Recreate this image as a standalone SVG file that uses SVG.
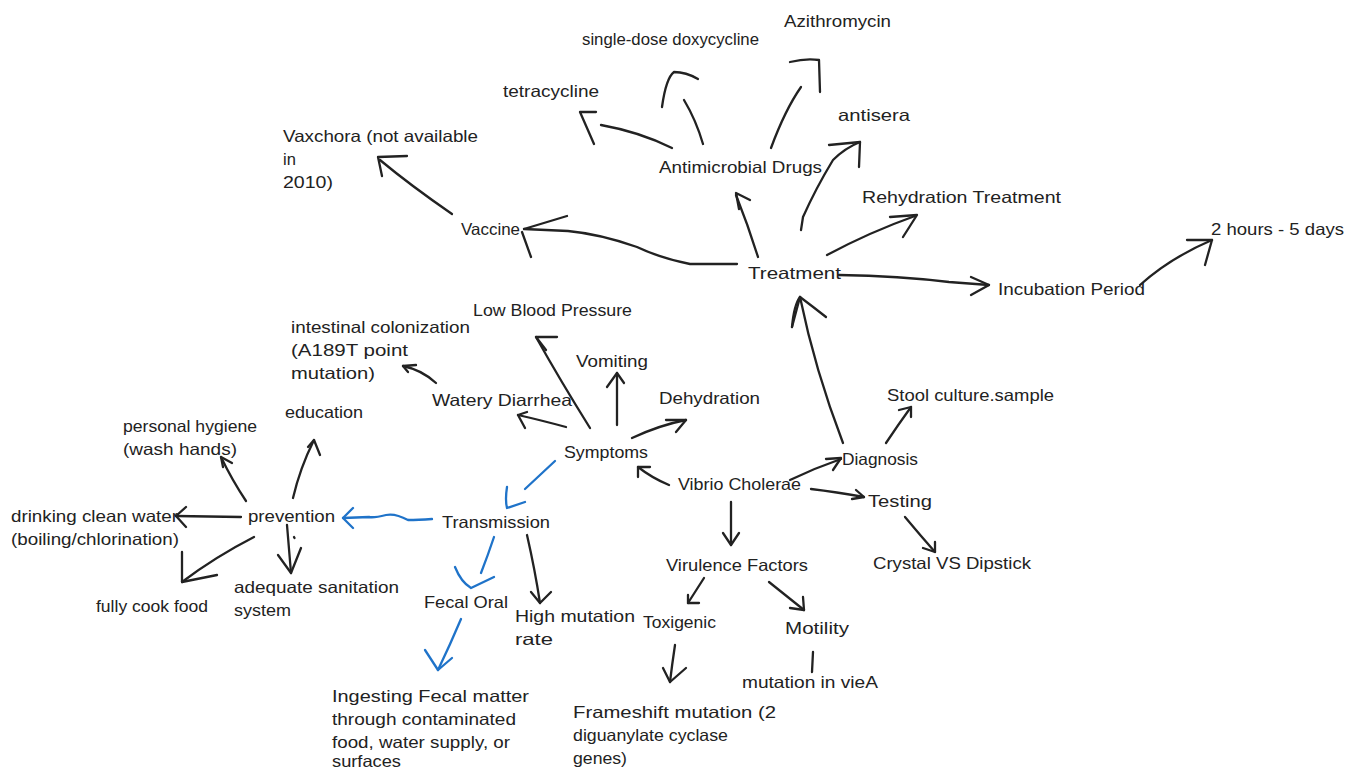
<svg xmlns="http://www.w3.org/2000/svg" width="1345" height="771" viewBox="0 0 1345 771">
<style>
text{font-family:"Liberation Sans","DejaVu Sans",sans-serif;font-size:16.5px;fill:#222}
.c path{fill:none;stroke:#222;stroke-width:2.3;stroke-linecap:round;stroke-linejoin:round}
.c path.b{stroke:#1f73c9}
</style>
<rect width="1345" height="771" fill="#fff"/>
<g id="connectors" class="c">
<!-- Treatment branches -->
<path d="M452,214 Q410,185 380,160"/><path d="M407,156 L378,157 L382,176"/>
<path d="M737,264 L690,264 Q660,258 637,247 Q600,234 568,231 L524,229"/><path d="M567,216 L524,229"/><path d="M522,232 L531,257"/>
<path d="M672,148 Q640,132 601,125"/><path d="M596,112 L580,112 L594,144"/>
<path d="M703,144 Q696,120 684,100"/><path d="M662,107 Q666,78 674,72 Q686,72 698,79"/>
<path d="M771,148 Q785,110 801,87"/><path d="M790,62 Q806,58 819,60 L820,92"/>
<path d="M801,230 L803,217 Q816,188 833,160 Q845,148 860,142"/><path d="M829,145 L860,142 L859,167"/>
<path d="M758,257 Q748,225 736,195"/><path d="M750,200 L736,193 L739,209"/>
<path d="M827,255 Q870,232 915,216"/><path d="M890,217 L917,215 L903,237"/>
<path d="M839,275 Q900,276 949,282 L989,285"/><path d="M971,277 L989,285 L971,295"/>
<path d="M1140,285 Q1170,258 1212,240"/><path d="M1187,240 L1212,240 L1205,265"/>
<!-- Diagnosis / Vibrio -->
<path d="M843,443 Q815,370 800,297"/><path d="M792,327 Q794,305 800,297 Q812,306 826,317"/><path d="M792,327 L800,297"/>
<path d="M886,443 Q898,425 911,407"/><path d="M899,410 L911,407 L911,417"/>
<path d="M669,485 Q652,478 638,467"/><path d="M650,467 L638,467 L638,477"/>
<path d="M790,480 Q815,468 841,459"/><path d="M826,459 L841,458 L833,470"/>
<path d="M811,489 Q836,492 864,497"/><path d="M856,490 L864,497 L852,499"/>
<path d="M731,502 L731,545"/><path d="M723,533 L731,545 L739,533"/>
<path d="M905,517 Q920,535 935,552"/><path d="M923,548 L935,552 L935,542"/>
<path d="M704,578 L688,603"/><path d="M688,595 L688,603 L699,603"/>
<path d="M769,582 L804,610"/><path d="M790,608 L804,610 L803,597"/>
<path d="M675,645 Q672,665 670,682"/><path d="M663,668 L670,682 L686,668"/>
<path d="M813,652 L812,672"/>
<!-- Symptoms -->
<path d="M617,425 L617,373"/><path d="M607,387 L617,373 L624,383"/>
<path d="M632,438 Q660,425 686,420"/><path d="M666,420 L686,420 L676,432"/>
<path d="M590,428 Q560,380 536,337"/><path d="M557,337 L536,337 L546,350"/>
<path d="M566,427 Q540,420 518,415"/><path d="M527,412 L518,415 L525,428"/>
<path d="M436,383 Q422,370 403,366"/><path d="M416,365 L403,366 L408,372"/>
<!-- blue -->
<path class="b" d="M555,461 Q540,475 525,489"/><path class="b" d="M507,487 Q505,500 507,508 L525,502"/>
<path class="b" d="M432,519 Q418,520 408,520 Q395,513 386,515 Q374,518 369,517 L343,518"/><path class="b" d="M353,508 L343,518 L353,528"/>
<path class="b" d="M494,537 Q488,555 481,573"/><path class="b" d="M455,567 Q461,582 471,588 L494,577"/>
<path class="b" d="M461,619 Q450,645 438,670"/><path class="b" d="M425,650 L438,670 L452,658"/>
<!-- prevention -->
<path d="M241,517 L176,516"/><path d="M186,507 L176,516 L186,527"/>
<path d="M246,501 Q232,480 221,457"/><path d="M232,463 L221,457 L223,467"/>
<path d="M293,498 Q300,468 314,440"/><path d="M308,447 L314,440 L320,455"/>
<path d="M287,525 Q289,550 291,573"/><path d="M278,555 L291,573 L301,548"/><path d="M294,537 L294.5,538"/>
<path d="M254,537 Q215,557 182,582"/><path d="M182,552 L182,582 L217,575"/>
<!-- Transmission -->
<path d="M527,535 Q535,570 540,603"/><path d="M531,592 L540,603 L551,592"/>
</g>
<g id="n-azithromycin"><text x="784" y="27" textLength="107" lengthAdjust="spacingAndGlyphs">Azithromycin</text></g>
<g id="n-doxycycline"><text x="582" y="45" textLength="177" lengthAdjust="spacingAndGlyphs">single-dose doxycycline</text></g>
<g id="n-tetracycline"><text x="503" y="97" textLength="96" lengthAdjust="spacingAndGlyphs">tetracycline</text></g>
<g id="n-vaxchora"><text x="283" y="142" textLength="195" lengthAdjust="spacingAndGlyphs">Vaxchora (not available</text><text x="283" y="165">in</text><text x="283" y="188" textLength="50" lengthAdjust="spacingAndGlyphs">2010)</text></g>
<g id="n-antisera"><text x="838" y="121" textLength="72" lengthAdjust="spacingAndGlyphs">antisera</text></g>
<g id="n-antimicrobial"><text x="659" y="173" textLength="163" lengthAdjust="spacingAndGlyphs">Antimicrobial Drugs</text></g>
<g id="n-rehydration"><text x="862" y="203" textLength="199" lengthAdjust="spacingAndGlyphs">Rehydration Treatment</text></g>
<g id="n-vaccine"><text x="461" y="235" textLength="59" lengthAdjust="spacingAndGlyphs">Vaccine</text></g>
<g id="n-hours"><text x="1211" y="235" textLength="133" lengthAdjust="spacingAndGlyphs">2 hours - 5 days</text></g>
<g id="n-treatment"><text x="748" y="279" textLength="93" lengthAdjust="spacingAndGlyphs">Treatment</text></g>
<g id="n-incubation"><text x="998" y="295" textLength="147" lengthAdjust="spacingAndGlyphs">Incubation Period</text></g>
<g id="n-lowbp"><text x="473" y="316" textLength="159" lengthAdjust="spacingAndGlyphs">Low Blood Pressure</text></g>
<g id="n-intestinal"><text x="291" y="333" textLength="179" lengthAdjust="spacingAndGlyphs">intestinal colonization</text><text x="291" y="356" textLength="117" lengthAdjust="spacingAndGlyphs">(A189T point</text><text x="291" y="379" textLength="84" lengthAdjust="spacingAndGlyphs">mutation)</text></g>
<g id="n-vomiting"><text x="576" y="367" textLength="72" lengthAdjust="spacingAndGlyphs">Vomiting</text></g>
<g id="n-diarrhea"><text x="432" y="406" textLength="140" lengthAdjust="spacingAndGlyphs">Watery Diarrhea</text></g>
<g id="n-dehydration"><text x="659" y="404" textLength="101" lengthAdjust="spacingAndGlyphs">Dehydration</text></g>
<g id="n-stool"><text x="887" y="401" textLength="167" lengthAdjust="spacingAndGlyphs">Stool culture.sample</text></g>
<g id="n-education"><text x="285" y="418" textLength="78" lengthAdjust="spacingAndGlyphs">education</text></g>
<g id="n-hygiene"><text x="123" y="432" textLength="134" lengthAdjust="spacingAndGlyphs">personal hygiene</text><text x="123" y="455" textLength="114" lengthAdjust="spacingAndGlyphs">(wash hands)</text></g>
<g id="n-symptoms"><text x="564" y="458" textLength="84" lengthAdjust="spacingAndGlyphs">Symptoms</text></g>
<g id="n-diagnosis"><text x="842" y="465" textLength="76" lengthAdjust="spacingAndGlyphs">Diagnosis</text></g>
<g id="n-vibrio"><text x="678" y="490" textLength="123" lengthAdjust="spacingAndGlyphs">Vibrio Cholerae</text></g>
<g id="n-testing"><text x="868" y="507" textLength="64" lengthAdjust="spacingAndGlyphs">Testing</text></g>
<g id="n-water"><text x="11" y="522" textLength="167" lengthAdjust="spacingAndGlyphs">drinking clean water</text><text x="11" y="545" textLength="168" lengthAdjust="spacingAndGlyphs">(boiling/chlorination)</text></g>
<g id="n-prevention"><text x="248" y="522" textLength="87" lengthAdjust="spacingAndGlyphs">prevention</text></g>
<g id="n-transmission"><text x="442" y="528" textLength="108" lengthAdjust="spacingAndGlyphs">Transmission</text></g>
<g id="n-virulence"><text x="666" y="571" textLength="142" lengthAdjust="spacingAndGlyphs">Virulence Factors</text></g>
<g id="n-crystal"><text x="873" y="569" textLength="158" lengthAdjust="spacingAndGlyphs">Crystal VS Dipstick</text></g>
<g id="n-sanitation"><text x="234" y="593" textLength="165" lengthAdjust="spacingAndGlyphs">adequate sanitation</text><text x="234" y="616" textLength="57" lengthAdjust="spacingAndGlyphs">system</text></g>
<g id="n-cook"><text x="96" y="612" textLength="112" lengthAdjust="spacingAndGlyphs">fully cook food</text></g>
<g id="n-fecal"><text x="424" y="608" textLength="84" lengthAdjust="spacingAndGlyphs">Fecal Oral</text></g>
<g id="n-highmut"><text x="515" y="622" textLength="120" lengthAdjust="spacingAndGlyphs">High mutation</text><text x="515" y="645" textLength="38" lengthAdjust="spacingAndGlyphs">rate</text></g>
<g id="n-toxigenic"><text x="643" y="628" textLength="73" lengthAdjust="spacingAndGlyphs">Toxigenic</text></g>
<g id="n-motility"><text x="785" y="634" textLength="64" lengthAdjust="spacingAndGlyphs">Motility</text></g>
<g id="n-viea"><text x="742" y="688" textLength="136" lengthAdjust="spacingAndGlyphs">mutation in vieA</text></g>
<g id="n-ingesting"><text x="332" y="702" textLength="197" lengthAdjust="spacingAndGlyphs">Ingesting Fecal matter</text><text x="332" y="725" textLength="184" lengthAdjust="spacingAndGlyphs">through contaminated</text><text x="332" y="748" textLength="178" lengthAdjust="spacingAndGlyphs">food, water supply, or</text><text x="332" y="767" textLength="69" lengthAdjust="spacingAndGlyphs">surfaces</text></g>
<g id="n-frameshift"><text x="573" y="718" textLength="203" lengthAdjust="spacingAndGlyphs">Frameshift mutation (2</text><text x="573" y="741" textLength="155" lengthAdjust="spacingAndGlyphs">diguanylate cyclase</text><text x="573" y="764" textLength="54" lengthAdjust="spacingAndGlyphs">genes)</text></g>
</svg>
